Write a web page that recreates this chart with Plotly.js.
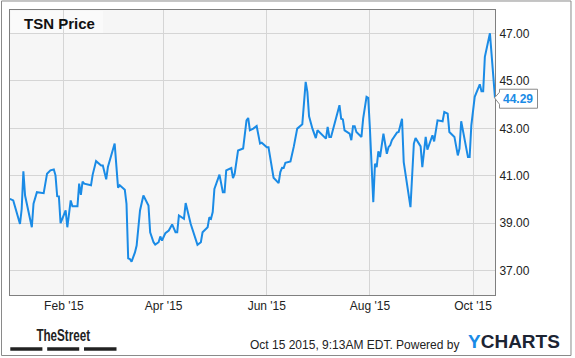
<!DOCTYPE html>
<html>
<head>
<meta charset="utf-8">
<script src="https://cdn.plot.ly/plotly-3.0.1.min.js"></script>
<style>
html,body{margin:0;padding:0;background:#fff;}
#chart{width:575px;height:358px;}
</style>
</head>
<body>
<div id="chart"></div>
<script>
// ---- data ----
const dates = [
"2014-12-31","2015-01-02","2015-01-06","2015-01-07","2015-01-08","2015-01-09","2015-01-13","2015-01-14","2015-01-16","2015-01-20",
"2015-01-22","2015-01-24","2015-01-26","2015-01-27","2015-01-28","2015-01-29","2015-01-30","2015-02-02","2015-02-03","2015-02-05",
"2015-02-06","2015-02-09","2015-02-10","2015-02-11","2015-02-12","2015-02-13","2015-02-17","2015-02-18","2015-02-20","2015-02-23",
"2015-02-24","2015-02-26","2015-02-27","2015-03-01","2015-03-03","2015-03-05","2015-03-06","2015-03-09","2015-03-10","2015-03-11",
"2015-03-12","2015-03-13","2015-03-15","2015-03-16","2015-03-18","2015-03-20","2015-03-23","2015-03-24","2015-03-26","2015-03-27",
"2015-03-29","2015-03-30","2015-03-31","2015-04-02","2015-04-04","2015-04-06","2015-04-08","2015-04-09","2015-04-10","2015-04-13",
"2015-04-14","2015-04-17","2015-04-19","2015-04-21","2015-04-23","2015-04-24","2015-04-27","2015-04-28","2015-04-29","2015-04-30",
"2015-05-01","2015-05-04","2015-05-06","2015-05-07","2015-05-08","2015-05-11","2015-05-12","2015-05-13","2015-05-15","2015-05-18",
"2015-05-20","2015-05-21","2015-05-22","2015-05-24","2015-05-26","2015-05-28","2015-05-29","2015-06-01","2015-06-02","2015-06-05",
"2015-06-08","2015-06-09","2015-06-10","2015-06-11","2015-06-12","2015-06-15","2015-06-17","2015-06-19","2015-06-22","2015-06-24",
"2015-06-25","2015-06-26","2015-06-28","2015-06-30","2015-07-01","2015-07-06","2015-07-07","2015-07-08","2015-07-09","2015-07-14",
"2015-07-15","2015-07-16","2015-07-17","2015-07-20","2015-07-21","2015-07-22","2015-07-23","2015-07-24","2015-07-27","2015-07-28",
"2015-07-30","2015-07-31","2015-08-01","2015-08-03","2015-08-04","2015-08-05","2015-08-06","2015-08-07","2015-08-09","2015-08-11",
"2015-08-12","2015-08-13","2015-08-14","2015-08-17","2015-08-18","2015-08-20","2015-08-21","2015-08-25","2015-08-27","2015-08-28",
"2015-08-31","2015-09-01","2015-09-03","2015-09-04","2015-09-07","2015-09-08","2015-09-10","2015-09-13","2015-09-14","2015-09-16",
"2015-09-17","2015-09-20","2015-09-22","2015-09-23","2015-09-24","2015-09-28","2015-09-29","2015-09-30","2015-10-02","2015-10-05",
"2015-10-06","2015-10-07","2015-10-08","2015-10-11","2015-10-14"
];
const prices = [
40.03,39.96,38.97,39.60,41.19,40.17,38.83,39.82,40.31,40.27,
41.09,41.23,41.27,41.02,40.14,40.13,39.00,39.54,38.83,39.96,
39.72,39.72,40.67,40.20,40.76,40.67,40.60,41.05,41.62,41.44,
41.44,40.85,41.37,41.86,42.36,40.50,40.60,40.41,39.82,37.52,
37.49,37.38,37.77,38.06,39.54,40.17,39.75,38.62,38.20,38.10,
38.20,38.44,38.27,38.58,38.69,38.95,38.62,38.62,39.33,39.19,
39.85,38.97,38.55,38.09,38.20,38.62,38.83,39.25,39.19,39.47,
40.45,41.05,40.31,40.31,41.23,41.33,40.90,41.09,42.07,42.15,
43.34,43.44,42.92,42.99,43.10,42.36,42.40,42.21,42.21,40.92,
40.69,41.16,41.34,41.33,41.55,41.61,42.24,42.99,43.17,44.96,
44.54,43.51,42.99,42.59,42.92,42.57,43.06,42.64,42.64,43.98,
43.41,43.38,42.92,42.78,42.50,43.09,43.09,42.85,42.64,43.41,
44.33,44.29,42.99,39.89,41.51,41.37,42.03,41.79,42.78,41.93,
42.21,42.29,42.50,42.82,42.85,43.41,41.58,39.68,42.36,42.59,
42.24,41.37,42.64,42.10,42.71,42.45,43.34,43.30,43.69,43.62,
42.85,42.64,41.86,42.15,43.30,41.79,41.79,43.13,44.33,44.86,
44.57,44.57,46.02,47.01,44.29
];
const xTickVals = ["2015-02-01","2015-04-01","2015-06-01","2015-08-01","2015-10-01"];
const xTickText = ["Feb '15","Apr '15","Jun '15","Aug '15","Oct '15"];
const yTickVals = [37,39,41,43,45,47];
const chartTitle = "TSN Price";
const lastValue = prices[prices.length-1];
const stampText = "Oct 15 2015, 9:13AM EDT. Powered by";
const brandText = "TheStreet";

const blue = "#1a8be6";
const font = "Liberation Sans, Arial, sans-serif";

const trace = {
  type: "scatter", mode: "lines",
  x: dates, y: prices,
  line: {color: blue, width: 2},
  hoverinfo: "skip"
};

const layout = {
  width: 575, height: 358,
  margin: {l: 10, r: 80, t: 10, b: 63, pad: 0},
  paper_bgcolor: "#ffffff",
  plot_bgcolor: "#f6f6f6",
  showlegend: false,
  font: {family: font, size: 12, color: "#222"},
  xaxis: {
    type: "date",
    range: ["2014-12-31 02:00", "2015-10-14"],
    tickvals: xTickVals, ticktext: xTickText,
    showgrid: true, gridcolor: "#d5d5d5", gridwidth: 1,
    showline: true, linecolor: "#7f7f7f", linewidth: 1, mirror: true,
    ticks: "", zeroline: false,
    tickfont: {family: font, size: 12, color: "#222"}
  },
  yaxis: {
    side: "right",
    range: [35.973, 47.994],
    tickvals: yTickVals, tickformat: ".2f",
    showgrid: true, gridcolor: "#d5d5d5", gridwidth: 1,
    showline: true, linecolor: "#7f7f7f", linewidth: 1, mirror: true,
    ticks: "", zeroline: false,
    ticklabelstandoff: 1,
    tickfont: {family: font, size: 12, color: "#222"}
  },
  shapes: [
    {type: "rect", xref: "paper", yref: "paper",
     x0: -0.0175, x1: 1.1567, y0: 1.0316, y1: -0.2123,
     line: {color: "#8a8a8a", width: 1}, fillcolor: "rgba(0,0,0,0)", layer: "above"},
    {type: "rect", xref: "paper", yref: "paper",
     x0: 0.0021, x1: 0.1918, y0: 0.9965, y1: 0.9193,
     line: {width: 0}, fillcolor: "#fafafa", layer: "between"},
    {type: "path", xref: "paper", yref: "y",
     xsizemode: "pixel", ysizemode: "pixel", xanchor: 1, yanchor: lastValue,
     path: "M 4.5 8.6 L 4.5 5.6 L -0.5 0 L 4.5 -6.4 L 4.5 -10.4 L 42.5 -10.4 L 42.5 8.6 Z",
     line: {color: "#8a8a8a", width: 1}, fillcolor: "#ffffff", layer: "above"},
    {type: "rect", xref: "paper", yref: "paper", x0: 0.0006, x1: 0.0668, y0: -0.1835, y1: -0.1954,
     line: {width: 0}, fillcolor: "#222222"},
    {type: "rect", xref: "paper", yref: "paper", x0: 0.0767, x1: 0.1427, y0: -0.1835, y1: -0.1954,
     line: {width: 0}, fillcolor: "#222222"},
    {type: "rect", xref: "paper", yref: "paper", x0: 0.1526, x1: 0.2196, y0: -0.1835, y1: -0.1954,
     line: {width: 0}, fillcolor: "#222222"}
  ],
  annotations: [
    {xref: "paper", yref: "paper", x: 0.0247, y: 0.9526, xanchor: "left", yanchor: "middle",
     text: "<b>" + chartTitle + "</b>", showarrow: false,
     font: {family: font, size: 15, color: "#111"}},
    {xref: "paper", yref: "y", x: 1, y: lastValue, xshift: 23, yshift: -1, xanchor: "center", yanchor: "middle",
     text: "<b>" + lastValue.toFixed(2) + "</b>", showarrow: false,
     font: {family: font, size: 12, color: blue}},
    {xref: "paper", yref: "paper", x: 0.1093, y: -0.1414, xanchor: "center", yanchor: "middle",
     text: "<b>" + brandText + "</b>", showarrow: false,
     font: {family: font, size: 17, color: "#222"}},
    {xref: "paper", yref: "paper", x: 0.9309, y: -0.1754, xanchor: "right", yanchor: "middle",
     text: stampText, showarrow: false,
     font: {family: font, size: 12, color: "#222"}},
    {xref: "paper", yref: "paper", x: 0.9402, y: -0.1632, xanchor: "left", yanchor: "middle",
     text: "<b><span style='color:" + blue + "'>Y</span><span style='color:#1c2433'>CHARTS</span></b>",
     showarrow: false,
     font: {family: font, size: 19, color: "#1c2433"}}
  ]
};

Plotly.newPlot("chart", [trace], layout, {displayModeBar: false, staticPlot: true}).then(function () {
  // condense the "TheStreet" wordmark horizontally (its logo face is a narrow bold type)
  document.querySelectorAll("#chart .annotation-text").forEach(function (t) {
    if (t.textContent === brandText) {
      const bb = t.getBBox();
      const cx = bb.x + bb.width / 2;
      const s = 54 / bb.width;
      t.setAttribute("transform", "translate(" + cx + ",0) scale(" + s + ",1) translate(" + (-cx) + ",0)");
    }
  });
});
</script>
</body>
</html>
